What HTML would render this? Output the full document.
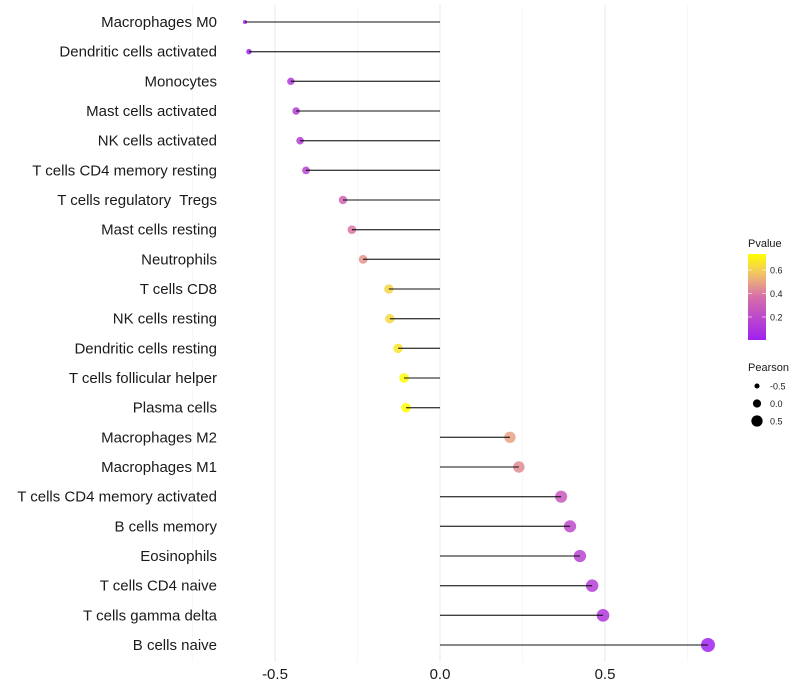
<!DOCTYPE html>
<html><head><meta charset="utf-8"><style>
body{margin:0;background:#fff;}
svg{display:block;font-family:"Liberation Sans",Arial,sans-serif;}
text{white-space:pre;}
</style></head><body>
<svg id="chart" width="800" height="700"></svg>
<script>
const categories=["Macrophages M0","Dendritic cells activated","Monocytes","Mast cells activated","NK cells activated","T cells CD4 memory resting","T cells regulatory  Tregs","Mast cells resting","Neutrophils","T cells CD8","NK cells resting","Dendritic cells resting","T cells follicular helper","Plasma cells","Macrophages M2","Macrophages M1","T cells CD4 memory activated","B cells memory","Eosinophils","T cells CD4 naive","T cells gamma delta","B cells naive"];
const pearson=[-0.591,-0.579,-0.452,-0.436,-0.424,-0.406,-0.294,-0.267,-0.233,-0.155,-0.152,-0.127,-0.109,-0.103,0.212,0.239,0.367,0.394,0.424,0.461,0.494,0.812];
const pvalue=[0.01,0.02,0.12,0.13,0.14,0.16,0.33,0.39,0.46,0.62,0.63,0.67,0.73,0.74,0.49,0.44,0.27,0.2,0.17,0.14,0.11,0.01];
const xTicks=[-0.5,0,0.5];
const xTickLabels=["-0.5","0.0","0.5"];
const pTicks=[0.2,0.4,0.6];
const sizeTicks=[-0.5,0,0.5];

const NS="http://www.w3.org/2000/svg";
const svg=document.getElementById('chart');
function mk(t,a,p){const e=document.createElementNS(NS,t);for(const k in a)e.setAttribute(k,a[k]);(p||svg).appendChild(e);return e;}
const x=v=>440+v*330;
const y=i=>22+i*(623/21);
const r=v=>v<-0.55?1.5+(v+0.6)*60:Math.sqrt(Math.max(2.5,13.7+(v+0.45)*28));
const rLegend=v=>4.1+3.1*v;
const stops=[[0,[160,32,240]],[0.5,[214,110,170]],[0.75,[240,190,110]],[1,[255,255,0]]];
function col(p){let t=Math.max(0,Math.min(1,p/0.74));for(let k=1;k<stops.length;k++){if(t<=stops[k][0]){const a=stops[k-1],b=stops[k];const f=(t-a[0])/(b[0]-a[0]);const c=a[1].map((v,j)=>Math.round(v+(b[1][j]-v)*f));return `rgb(${c})`;}}return 'rgb(255,255,0)';}

[-0.75,-0.25,0.25,0.75].forEach(v=>{const g=mk('line',{x1:x(v),x2:x(v),y1:5,y2:662,stroke:'#f2f2f2','stroke-width':0.6});

});
xTicks.forEach((v,i)=>{const g=mk('line',{x1:x(v),x2:x(v),y1:5,y2:662,stroke:'#ebebeb','stroke-width':1.1});


const t=mk('text',{x:x(v),y:679,'text-anchor':'middle','font-size':15,fill:'#1a1a1a'});t.textContent=xTickLabels[i];

});

categories.forEach((c,i)=>{
 const t=mk('text',{x:217,y:y(i)+5,'text-anchor':'end','font-size':15,fill:'#1a1a1a'});t.textContent=c;
 
 
 const d=mk('circle',{cx:x(pearson[i]),cy:y(i),r:r(pearson[i]),fill:col(pvalue[i]),'fill-opacity':0.85});
 
 
 const l=mk('line',{x1:x(0),x2:x(pearson[i]),y1:y(i),y2:y(i),stroke:'#000','stroke-opacity':0.75,'stroke-width':1.3});
 
 
});

const defs=mk('defs',{});
const lg=mk('linearGradient',{id:'pg',x1:0,y1:1,x2:0,y2:0},defs);
for(let k=0;k<=10;k++){mk('stop',{offset:k/10,'stop-color':col(0.74*k/10)},lg);}
const lt=mk('text',{x:748,y:247,'font-size':11,fill:'#1a1a1a'});lt.textContent='Pvalue';


const bar=mk('rect',{x:748,y:254,width:18,height:86,fill:'url(#pg)'});


const py=p=>340-(p-0.004)*117.5;
pTicks.forEach(p=>{mk('line',{x1:748,x2:752,y1:py(p),y2:py(p),stroke:'#fff','stroke-opacity':0.6});mk('line',{x1:762,x2:766,y1:py(p),y2:py(p),stroke:'#fff','stroke-opacity':0.6});
 const t=mk('text',{x:770,y:py(p)+3.5,'font-size':9,fill:'#1a1a1a'});t.textContent=p.toFixed(1);
 
 });
const st=mk('text',{x:748,y:371,'font-size':11,fill:'#1a1a1a'});st.textContent='Pearson';


sizeTicks.forEach((v,i)=>{const cy=386+i*17.5;
 const c=mk('circle',{cx:757,cy:cy,r:rLegend(v),fill:'#000'});
 
 
 const t=mk('text',{x:770,y:cy+3.5,'font-size':9,fill:'#1a1a1a'});t.textContent=v===0?'0.0':String(v);
 
 });
</script>
</body></html>
